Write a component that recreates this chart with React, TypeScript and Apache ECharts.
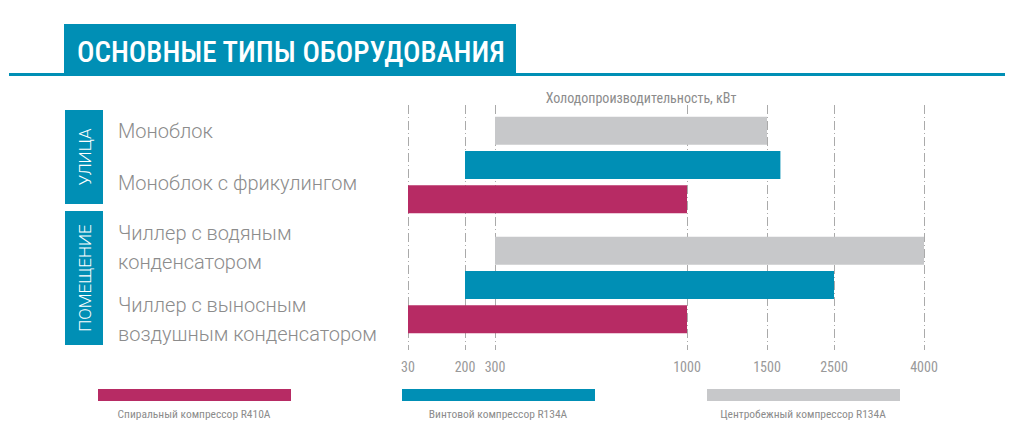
import React, { useEffect, useRef } from "react";
import * as echarts from "echarts";

// ---- data ----
const TITLE = "ОСНОВНЫЕ ТИПЫ ОБОРУДОВАНИЯ";
const AXIS_TITLE = "Холодопроизводительность, кВт";
const SECTIONS = ["УЛИЦА", "ПОМЕЩЕНИЕ"];
const EQUIPMENT = [
  "Моноблок",
  "Моноблок с фрикулингом",
  "Чиллер с водяным\nконденсатором",
  "Чиллер с выносным\nвоздушным конденсатором",
];
const TICK_VALUES = [30, 200, 300, 1000, 1500, 2500, 4000];

const SCROLL_NAME = "Спиральный компрессор R410A";
const SCROLL_FROM = [30, 30];
const SCROLL_TO = [1000, 1000];

const SCREW_NAME = "Винтовой компрессор R134A";
const SCREW_FROM = [200, 200];
const SCREW_TO = [1700, 2500];

const CENTRIFUGAL_NAME = "Центробежный компрессор R134A";
const CENTRIFUGAL_FROM = [300, 300];
const CENTRIFUGAL_TO = [1500, 4000];

// ---- axis layout (non-linear scale: where each tick sits on the axis) ----
const TICK_POSITIONS = [0, 57, 87, 279, 359, 426, 516];

const TEAL = "#008FB5";
const MAGENTA = "#B72B64";
const GREY = "#C7C8CA";
const TEXT = "#8C8C8C";
const COND = "'Roboto Condensed','Liberation Sans Narrow','DejaVu Sans Condensed',Roboto,sans-serif";

function toAxis(v: number): number {
  for (let i = 0; i < TICK_VALUES.length - 1; i++) {
    const a = TICK_VALUES[i], b = TICK_VALUES[i + 1];
    if (v <= b || i === TICK_VALUES.length - 2) {
      const t = (v - a) / (b - a);
      return TICK_POSITIONS[i] + t * (TICK_POSITIONS[i + 1] - TICK_POSITIONS[i]);
    }
  }
  return 0;
}

export default function App() {
  const ref = useRef<HTMLDivElement>(null);
  useEffect(() => {
    if (!ref.current) return;
    const chart = echarts.init(ref.current, undefined, { renderer: "svg" });

    const groups = [
      { key: "c", name: CENTRIFUGAL_NAME, from: CENTRIFUGAL_FROM, to: CENTRIFUGAL_TO, color: GREY },
      { key: "s", name: SCREW_NAME, from: SCREW_FROM, to: SCREW_TO, color: TEAL },
      { key: "r", name: SCROLL_NAME, from: SCROLL_FROM, to: SCROLL_TO, color: MAGENTA },
    ];
    const series: any[] = [];
    groups.forEach((g) => {
      series.push({
        type: "bar",
        stack: g.key,
        silent: true,
        barWidth: 28,
        barGap: "22%",
        itemStyle: { color: "transparent" },
        data: g.from.map((v) => toAxis(v)),
      });
      series.push({
        type: "bar",
        name: g.name,
        stack: g.key,
        barWidth: 28,
        barGap: "22%",
        itemStyle: { color: g.color },
        data: g.from.map((v, i) => toAxis(g.to[i]) - toAxis(v)),
      });
    });

    const labelByPos: Record<string, string> = {};
    TICK_POSITIONS.forEach((p, i) => (labelByPos[String(p)] = String(TICK_VALUES[i])));

    const legendDefs = [
      { name: SCROLL_NAME, left: 98, color: MAGENTA },
      { name: SCREW_NAME, left: 402, color: TEAL },
      { name: CENTRIFUGAL_NAME, left: 707, color: GREY },
    ];

    const graphic: any[] = [
      { type: "rect", shape: { x: 9, y: 73, width: 996, height: 3 }, style: { fill: TEAL } },
      { type: "rect", shape: { x: 64, y: 24, width: 452, height: 50 }, style: { fill: TEAL } },
      {
        type: "text",
        x: 77,
        y: 52,
        style: { text: TITLE, fill: "#fff", font: `500 29px ${COND}`, verticalAlign: "middle" },
      },
      {
        type: "text",
        x: 641,
        y: 98,
        style: { text: AXIS_TITLE, fill: TEXT, font: `14px ${COND}`, align: "center", verticalAlign: "middle" },
      },
      { type: "rect", shape: { x: 65, y: 110, width: 38, height: 94 }, style: { fill: TEAL } },
      { type: "rect", shape: { x: 65, y: 211, width: 38, height: 134 }, style: { fill: TEAL } },
      {
        type: "text",
        x: 85,
        y: 157,
        rotation: Math.PI / 2,
        style: { text: SECTIONS[0], fill: "#fff", font: "300 17px Roboto", align: "center", verticalAlign: "middle" },
      },
      {
        type: "text",
        x: 85,
        y: 278,
        rotation: Math.PI / 2,
        style: { text: SECTIONS[1], fill: "#fff", font: "300 17px Roboto", align: "center", verticalAlign: "middle" },
      },
    ];
    const eqY = [131, 183, 247, 319.5];
    EQUIPMENT.forEach((t, i) => {
      graphic.push({
        type: "text",
        x: 118,
        y: eqY[i],
        style: { text: t, fill: TEXT, font: "300 20px Roboto", lineHeight: 29, verticalAlign: "middle" },
      });
    });
    legendDefs.forEach((l) => {
      graphic.push({
        type: "text",
        x: l.left + 96,
        y: 414,
        style: { text: l.name, fill: TEXT, font: `11.5px ${COND}`, align: "center", verticalAlign: "middle" },
      });
    });

    chart.setOption({
      animation: false,
      grid: { left: 408, right: 100, top: 105, height: 240 },
      legend: legendDefs.map((l) => ({
        data: [l.name],
        left: l.left,
        top: 389,
        padding: 0,
        icon: "rect",
        itemWidth: 193,
        itemHeight: 12,
        selectedMode: false,
        formatter: () => "",
        textStyle: { fontSize: 1 },
      })),
      xAxis: {
        type: "value",
        min: 0,
        max: TICK_POSITIONS[TICK_POSITIONS.length - 1],
        axisLine: { show: false },
        axisTick: {
          show: true,
          customValues: TICK_POSITIONS,
          length: 8,
          lineStyle: { color: "#AAAAAA", type: [5, 3] },
        },
        splitLine: {
          show: true,
          lineStyle: { color: "#AAAAAA", width: 1, type: [9, 3, 1, 3] },
        },
        axisLabel: {
          customValues: TICK_POSITIONS,
          formatter: (v: number) => labelByPos[String(v)] ?? "",
          color: "#999",
          fontFamily: COND,
          fontSize: 14,
          margin: 15,
        },
      },
      yAxis: {
        type: "category",
        data: SECTIONS,
        inverse: true,
        axisLine: { show: false },
        axisTick: { show: false },
        axisLabel: { show: false },
        splitLine: { show: false },
      },
      series,
      graphic,
    });
    return () => chart.dispose();
  }, []);
  return (
    <div
      ref={ref}
      style={{ position: "fixed", left: 0, top: 0, width: 1024, height: 432, background: "#fff" }}
    />
  );
}
